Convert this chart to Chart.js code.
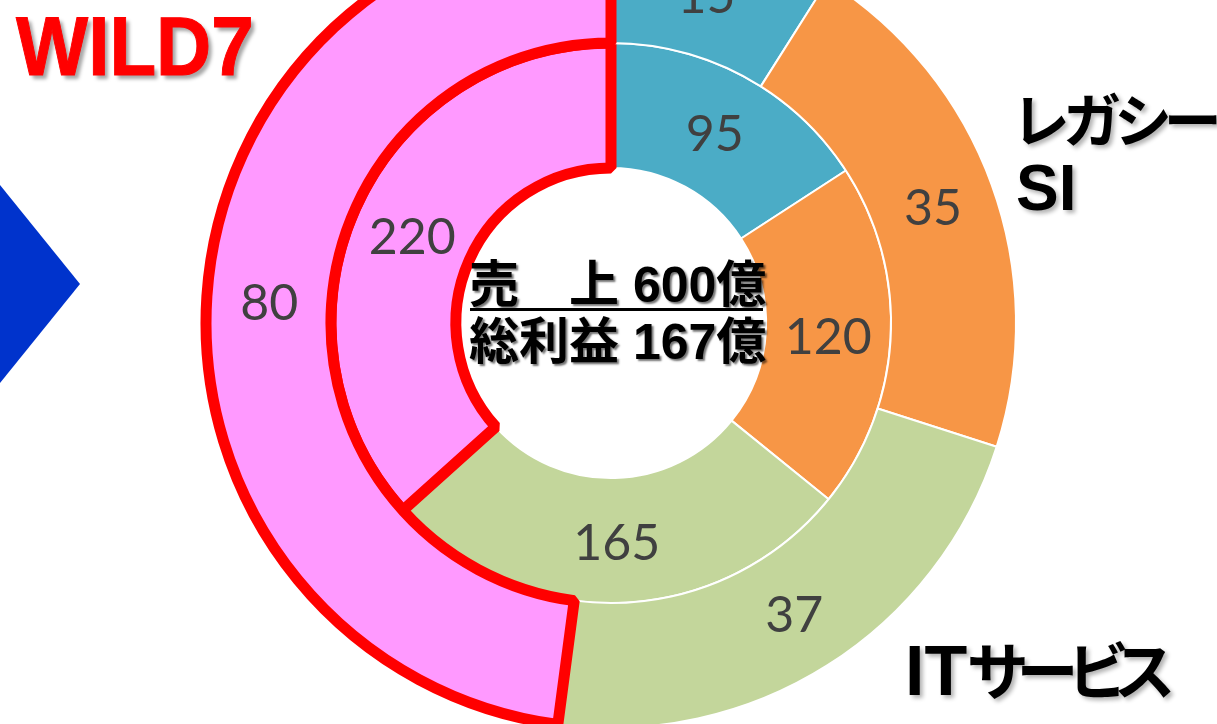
<!DOCTYPE html>
<html>
<head>
<meta charset="utf-8">
<script src="https://cdn.jsdelivr.net/npm/chart.js@4.4.1/dist/chart.umd.min.js"></script>
<style>
  html, body { margin: 0; padding: 0; width: 1217px; height: 724px; overflow: hidden; background: #fff; }
  #wrap { position: absolute; left: 0; top: -87px; width: 1222px; height: 820px; }
  .lbl { position: absolute; white-space: nowrap; font-weight: 700; line-height: 1; }
  .jp { font-family: "Liberation Sans", "Noto Sans CJK JP", sans-serif; }
  #arrow { position: absolute; left: 0; top: 185px; width: 80px; height: 198px; background: #0033CC;
           clip-path: polygon(0 0, 100% 50%, 0 100%); }
  #wild { left: 16px; top: 4px; font-family: "Liberation Sans", sans-serif; font-size: 84px; color: #FF0000;
          transform: scaleX(0.91); transform-origin: left top; text-shadow: 4px 4px 4px rgba(0,0,0,0.35);
          -webkit-text-stroke: 1px #FF0000; }
  .side { color: #000; text-shadow: 3px 3px 4px rgba(0,0,0,0.3); font-family: "Noto Sans CJK JP", sans-serif;
          font-feature-settings: "palt"; }
  .lat { font-family: "Liberation Sans", sans-serif; }
  #legacy { left: 1014px; top: 88px; font-size: 58px; letter-spacing: -4px; }
  #si { left: 1016px; top: 156px; font-size: 64px; }
  #its { left: 905px; top: 636px; font-size: 62px; }
  #its .lat { font-size: 70px; }
  #its .kana { letter-spacing: -9px; }
  #center { left: 469px; top: 257px; font-size: 50px; line-height: 57px; color: #000;
            text-shadow: 2px 2px 2px rgba(0,0,0,0.55); }
  #uline { position: absolute; left: 470px; top: 308px; width: 293px; height: 3px; background: #000; }
</style>
</head>
<body>
<div id="wrap"><canvas id="c" width="1222" height="820"></canvas></div>
<div id="arrow"></div>
<div id="wild" class="lbl">WILD7</div>
<div id="legacy" class="lbl side">レガシー</div>
<div id="si" class="lbl side lat">SI</div>
<div id="its" class="lbl side"><span class="lat">IT</span><span class="kana">サービス</span></div>
<div id="center" class="lbl jp">売　上 600億<br>総利益 167億</div>
<div id="uline"></div>
<script>
// Segments (clockwise from top): 他, レガシーSI, ITサービス, WILD7
const categories = ["その他", "レガシーSI", "ITサービス", "WILD7"];
const sales = [95, 120, 165, 220];        // 売上 (inner ring), 億
const grossProfit = [15, 35, 37, 80];     // 総利益 (outer ring), 億
const colors = ["#4BACC6", "#F79646", "#C3D69B", "#FF99FF"];
const borders = ["#FFFFFF", "#FFFFFF", "#FFFFFF", "#FF0000"];
const borderWidths = [2, 2, 2, 11];

const valueLabels = {
  id: "valueLabels",
  afterDatasetsDraw(chart) {
    const ctx = chart.ctx;
    ctx.save();
    ctx.font = "400 50px Lato, 'Open Sans', sans-serif";
    ctx.fillStyle = "#404040";
    ctx.textAlign = "center";
    ctx.textBaseline = "middle";
    chart.data.datasets.forEach((ds, di) => {
      const meta = chart.getDatasetMeta(di);
      meta.data.forEach((arc, i) => {
        const p = arc.tooltipPosition();
        ctx.fillText(String(ds.data[i]), p.x, p.y + 3);
      });
    });
    ctx.restore();
  }
};

new Chart(document.getElementById("c"), {
  type: "doughnut",
  data: {
    labels: categories,
    datasets: [
      { label: "総利益", data: grossProfit, backgroundColor: colors, borderColor: borders, borderWidth: borderWidths },
      { label: "売上", data: sales, backgroundColor: colors, borderColor: borders, borderWidth: borderWidths }
    ]
  },
  options: {
    responsive: false,
    animation: false,
    radius: 405,
    cutout: "38.3%",
    layout: { padding: 0 },
    plugins: { legend: { display: false }, tooltip: { enabled: false }, title: { display: false } }
  },
  plugins: [valueLabels]
});
</script>
</body>
</html>
